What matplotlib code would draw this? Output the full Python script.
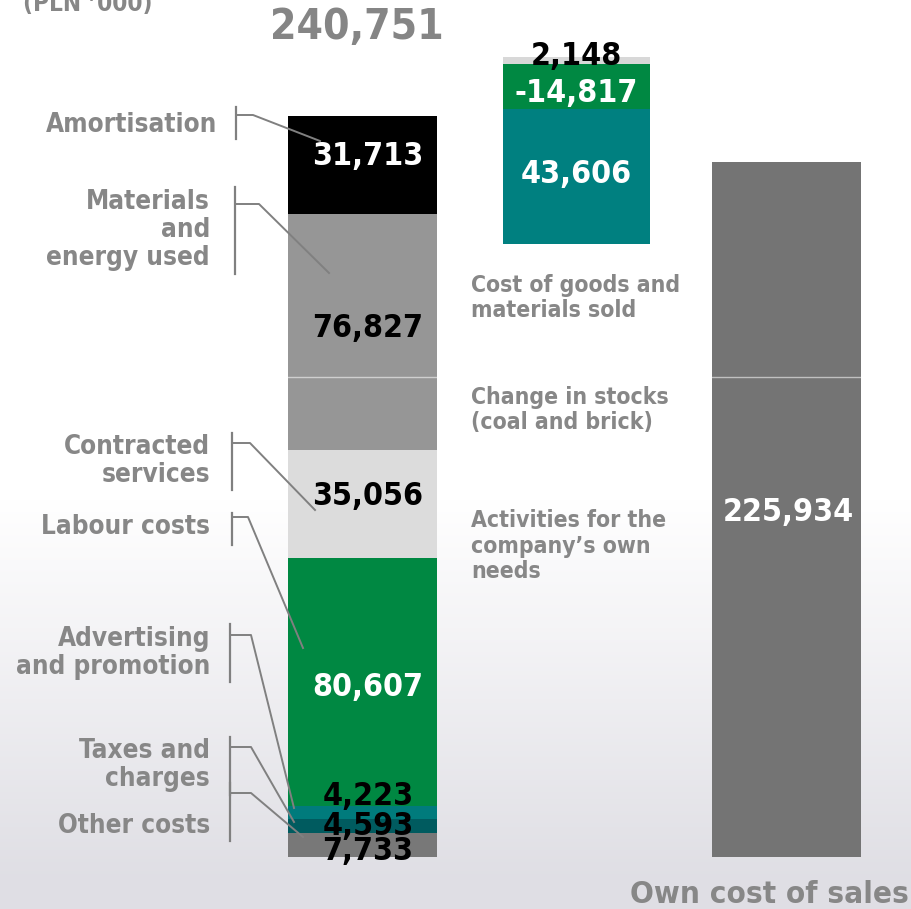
"""Cost structure bridge: costs by type -> own cost of sales (PLN '000)."""
import numpy as np
import matplotlib
matplotlib.use("Agg")
import matplotlib.pyplot as plt
from matplotlib.transforms import Affine2D

# costs by type, stacked bottom -> top
cost_labels = ["Other costs", "Taxes and\ncharges", "Advertising\nand promotion",
               "Labour costs", "Contracted\nservices", "Materials\nand\nenergy used",
               "Amortisation"]
cost_values = [7733, 4593, 4223, 80607, 35056, 76827, 31713]
cost_colors = ["#787878", "#005b5f", "#007b7c", "#008842", "#dcdcdc", "#969696", "#000000"]
cost_text = ["black", "black", "black", "white", "black", "black", "white"]
total_costs = 240751

# adjustments, stacked bottom -> top on a floating bar
adj_values = [43606, -14817, 2148]
adj_colors = ["#008080", "#008842", "#d8d8d8"]
adj_text = ["white", "white", "black"]
adj_base = 199300
adj_labels = ["Cost of goods and\nmaterials sold", "Change in stocks\n(coal and brick)",
              "Activities for the\ncompany\u2019s own\nneeds"]

own_cost_of_sales = 225934

W, H = 912, 909
plt.rcParams["font.family"] = "DejaVu Sans"
plt.rcParams["font.stretch"] = "condensed"
plt.rcParams["font.weight"] = "bold"
fig = plt.figure(figsize=(W / 100, H / 100), dpi=100)
px = Affine2D().scale(1 / W, -1 / H).translate(0, 1) + fig.transFigure

# soft grey haze towards the bottom
bg = fig.add_axes([0, 0, 1, 1], zorder=-1)
t = np.clip((np.linspace(0, 1, H) - 0.55) / 0.42, 0, 1)[:, None]
top = np.array([1.0, 1.0, 1.0])
bot = np.array([0.875, 0.872, 0.895])
grad = top + (bot - top) * t[..., None] * np.ones((1, 4, 1))
bg.imshow(grad, aspect="auto", extent=[0, 1, 0, 1])
bg.axis("off")

ax = fig.add_axes([0, 0, 1, 1])
ax.patch.set_alpha(0)
scale = 741 / total_costs          # pixels per unit
base_px = 857
ax.set_xlim(0, W)
ax.set_ylim(-(H - base_px) / scale, base_px / scale)
ax.axis("off")

x_left, x_mid, x_right = 362.5, 576.5, 786.5
bw = 149
vsize = 23

# left stack
bottoms = np.concatenate([[0], np.cumsum(cost_values)[:-1]])
ax.bar(x_left, cost_values, bottom=bottoms, width=bw, color=cost_colors, linewidth=0)
offs = [-6, 0, 16, -5, 8, 3, 8]
for v, b, c, o in zip(cost_values, bottoms, cost_text, offs):
    ax.annotate(f"{v:,}", (x_left, b + v / 2), xytext=(4, o * 0.72), textcoords="offset points",
                ha="center", va="center", fontsize=vsize, color=c)

# floating adjustments
heights = [abs(v) for v in adj_values]
mb = adj_base + np.concatenate([[0], np.cumsum(heights)[:-1]])
ax.bar(x_mid, heights, bottom=mb, width=147, color=adj_colors, linewidth=0)
offs = [2, -7, 4]
for v, b, h, c, o in zip(adj_values, mb, heights, adj_text, offs):
    ax.annotate(f"{v:,}", (x_mid, b + h / 2), xytext=(0, o * 0.72), textcoords="offset points",
                ha="center", va="center", fontsize=vsize, color=c)

# result
ax.bar(x_right, own_cost_of_sales, width=bw, color="#747474", linewidth=0)
ax.text(x_right + 2, own_cost_of_sales * 0.495, f"{own_cost_of_sales:,}", ha="center",
        va="center", fontsize=vsize, color="white")

ax.axhline(156000, color="white", alpha=0.55, lw=1)

grey = "#878787"
ax.text(357, 27, f"{total_costs:,}", transform=px, ha="center", va="center",
        fontsize=30.5, color="#858585")

# label text blocks (right edge x, centre y) and leader geometry
label_pos = [(210, 826), (210, 765), (210, 653), (210, 527), (210, 461), (210, 230), (217, 125)]
leaders = [  # vx, vy0, vy1, hy, hx, ex, ey
    (230, 783, 841, 793, 251, 303, 837),
    (230, 737, 795, 747, 251, 294, 822),
    (230, 624, 682, 635, 251, 294, 808),
    (232, 513, 545, 517, 248, 303, 648),
    (232, 433, 490, 443, 250, 315, 510),
    (235, 187, 274, 204, 259, 329, 273),
    (236, 107, 139, 115, 253, 320, 141),
]
for lab, (lx, ly), (vx, v0, v1, hy, hx, ex, ey) in zip(cost_labels, label_pos, leaders):
    ax.text(lx, ly, lab, transform=px, ha="right", va="center", ma="right",
            fontsize=18.7, color=grey, linespacing=1.1)
    ax.plot([vx, vx], [v0, v1], transform=px, color="#808080", lw=1.6)
    ax.plot([vx, hx, ex], [hy, hy, ey], transform=px, color="#808080", lw=1.4)

for lab, ly in zip(adj_labels, [298, 410, 546]):
    ax.text(471, ly, lab, transform=px, ha="left", va="center", fontsize=16.5,
            color=grey, linespacing=1.15)

ax.text(23, 11, "(PLN \u2019000)", transform=px, ha="left", va="baseline",
        fontsize=17.5, color=grey)
ax.text(630, 903, "Own cost of sales", transform=px, ha="left", va="baseline",
        fontsize=22.5, color=grey)

fig.savefig("out.png", dpi=100)
